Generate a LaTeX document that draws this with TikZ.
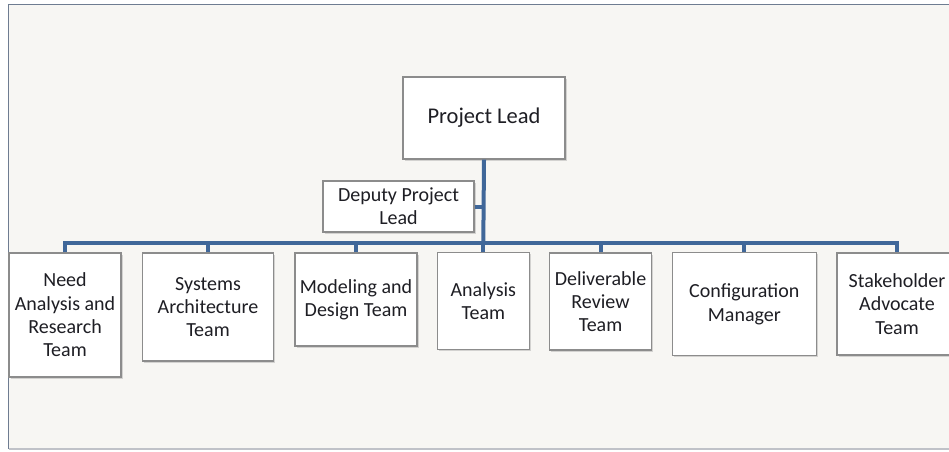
\documentclass[tikz,border=0pt]{standalone}
\usepackage{fontspec}
\setmainfont{Carlito}
\usepackage{tikz}
\usetikzlibrary{shadows}
\definecolor{panelbg}{RGB}{247,246,243}
\definecolor{panelrim}{RGB}{110,124,145}
\definecolor{panellow}{RGB}{192,194,200}
\definecolor{linkblue}{RGB}{64,103,153}
\definecolor{boxrim}{RGB}{140,140,140}
\definecolor{txt}{RGB}{30,30,36}
\tikzset{
  orgbox/.style={draw=boxrim, line width=1.2pt, fill=white, text=txt, inner sep=0pt,
    align=center, font=\fontsize{20}{23.3}\selectfont,
    drop shadow={shadow xshift=1.5pt, shadow yshift=-1.5pt, opacity=0.3}},
  link/.style={draw=linkblue, line width=4pt}
}

\begin{document}
\begin{tikzpicture}[x=1pt,y=-1pt]
        \clip (0,0) rectangle (949,451);
        % panel behind the chart
        \fill[panelbg] (8.5,4.5) rectangle (980,449);
        \draw[panellow, line width=1.5pt] (8.5,449) -- (980,449);
        \draw[panelrim, line width=1.5pt] (8.5,449) -- (8.5,4.5) -- (980,4.5);
        % top of the chart
        \node[orgbox, minimum width=162pt, minimum height=82pt, font=\fontsize{22.5}{26}\selectfont] (lead) at (484,118) {Project Lead};
        \node[orgbox, minimum width=151pt, minimum height=51pt] (deputy) at (398.5,206.5) {Deputy Project\\Lead};
        % teams
        \node[orgbox, minimum width=112pt, minimum height=124pt] (need) at (65,315) {Need\\Analysis and\\Research\\Team};
        \node[orgbox, minimum width=131pt, minimum height=108pt] (sys) at (208,307) {Systems\\Architecture\\Team};
        \node[orgbox, minimum width=122pt, minimum height=93pt] (model) at (356,299.5) {Modeling and\\Design Team};
        \node[orgbox, minimum width=92pt, minimum height=97pt] (analysis) at (483.3,301.3) {Analysis\\Team};
        \node[orgbox, minimum width=102pt, minimum height=97pt] (deliv) at (600.5,301.5) {Deliverable\\Review\\Team};
        \node[orgbox, minimum width=144pt, minimum height=103pt] (config) at (744.3,304.3) {Configuration\\Manager};
        \node[orgbox, minimum width=120pt, minimum height=102pt] (stake) at (897,304) {Stakeholder\\Advocate\\Team};
        % connectors
        \coordinate (bus) at (483.3,243);
        \draw[link] (lead.south) -- (bus);
        \draw[link] (deputy.east) -- (deputy.east -| bus);
        \draw[link] (need.north) -- (need.north |- bus) -- (stake.north |- bus) -- (stake.north);
        \foreach \team in {sys,model,analysis,deliv,config}
            \draw[link] (\team.north) -- (\team.north |- bus);
\end{tikzpicture}
\end{document}
